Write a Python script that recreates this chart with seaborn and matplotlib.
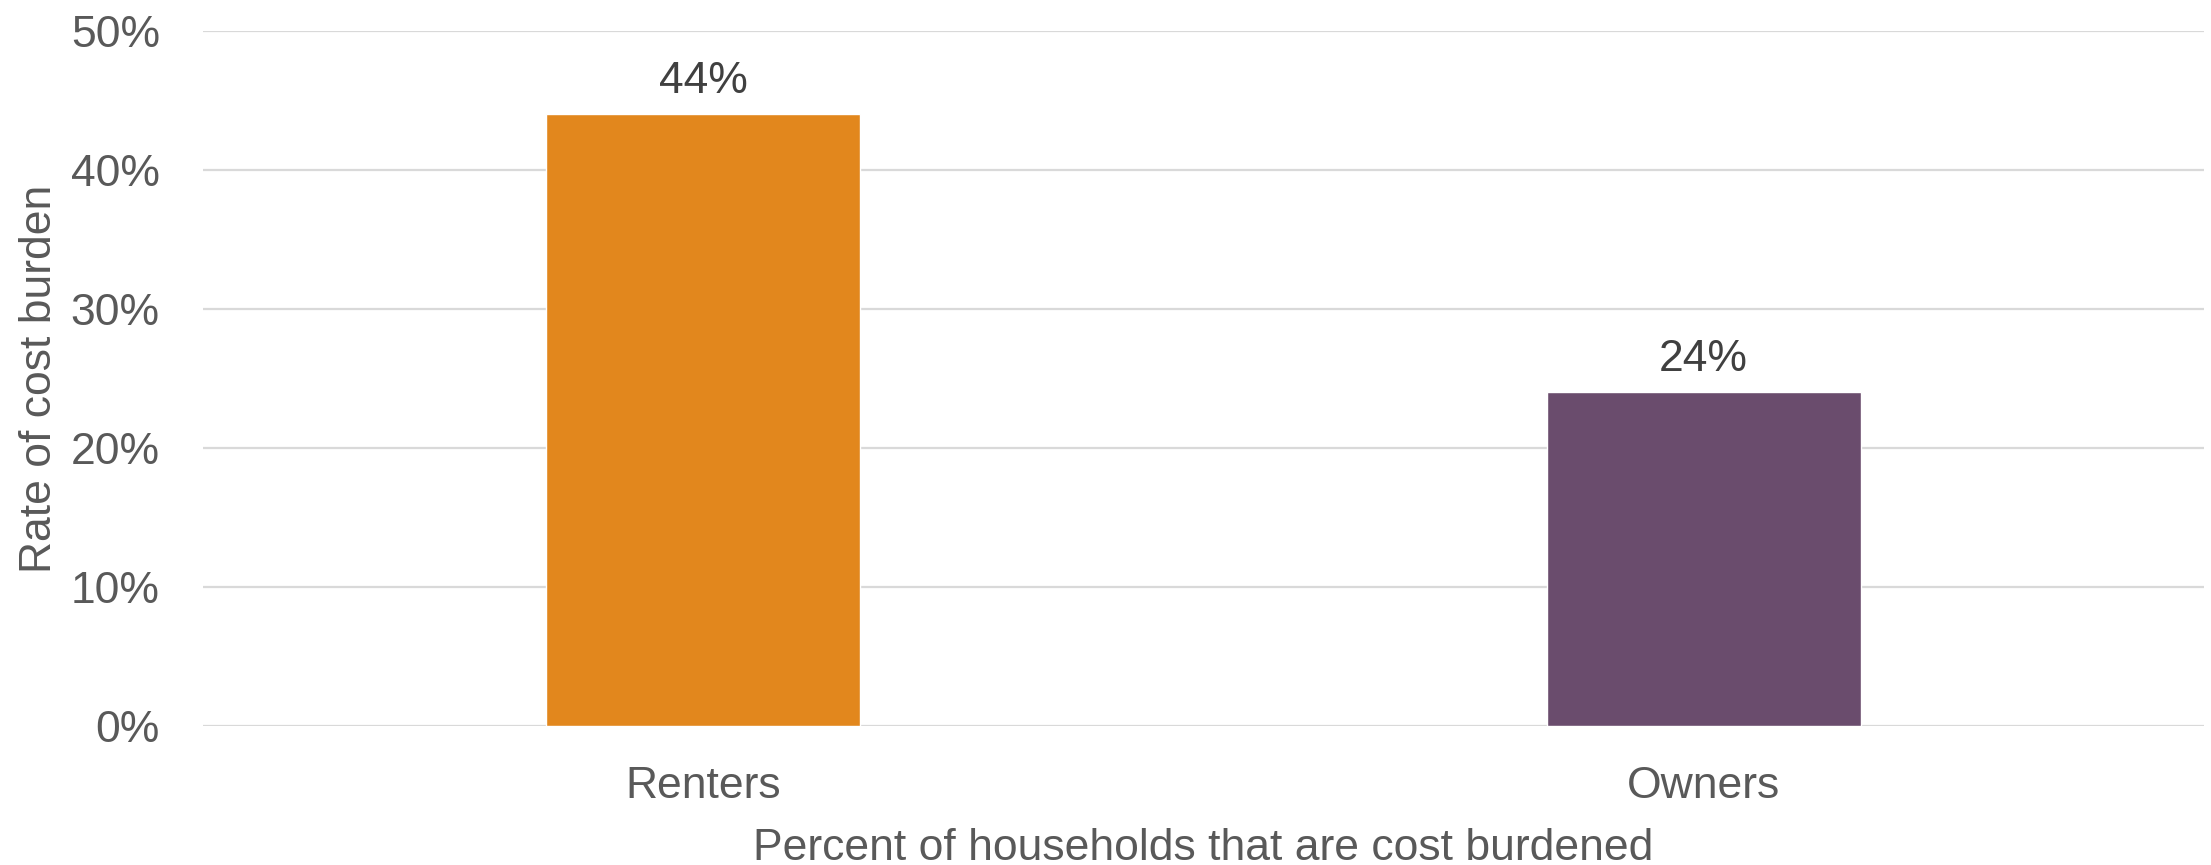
import matplotlib
matplotlib.use("Agg")
import matplotlib.pyplot as plt
import seaborn as sns
import pandas as pd
from matplotlib.ticker import FuncFormatter

categories = ["Renters", "Owners"]
values = [44, 24]
colors = ["#E2871D", "#6A4C6D"]
yticks = [0, 10, 20, 30, 40, 50]

sns.set_theme(style="white")
plt.rcParams["font.family"] = ["Liberation Sans", "DejaVu Sans"]

df = pd.DataFrame({"category": categories, "value": values})

fig = plt.figure(figsize=(22.11, 8.65), dpi=100)
ax = fig.add_axes([0.0918, 0.1607, 0.9968 - 0.0918, 0.9642 - 0.1607])

sns.barplot(data=df, x="category", y="value", hue="category", palette=colors,
            width=0.314, legend=False, ax=ax, saturation=1, zorder=3)

ax.set_ylim(0, 50)
ax.set_xlim(-0.5, 1.5)
ax.set_yticks(yticks)
ax.yaxis.set_major_formatter(FuncFormatter(lambda v, p: f"{int(v)}%"))
ax.grid(axis="y", color="#D9D9D9", linewidth=1.6, zorder=0)
ax.grid(axis="x", visible=False)
ax.set_axisbelow(True)
for s in ax.spines.values():
    s.set_visible(False)

txt = "#595959"
ax.tick_params(axis="y", length=0, pad=31, labelsize=32, labelcolor=txt)
ax.tick_params(axis="x", length=0, pad=29, labelsize=32, labelcolor=txt)
ax.set_xlabel("Percent of households that are cost burdened", fontsize=32, color=txt, labelpad=15)
ax.set_ylabel("Rate of cost burden", fontsize=32, color=txt, labelpad=8)

for c in ax.containers:
    ax.bar_label(c, labels=[f"{int(v)}%" for v in c.datavalues], padding=9,
                 fontsize=32, color="#404040")

fig.savefig("out.png", dpi=100, facecolor="white")
